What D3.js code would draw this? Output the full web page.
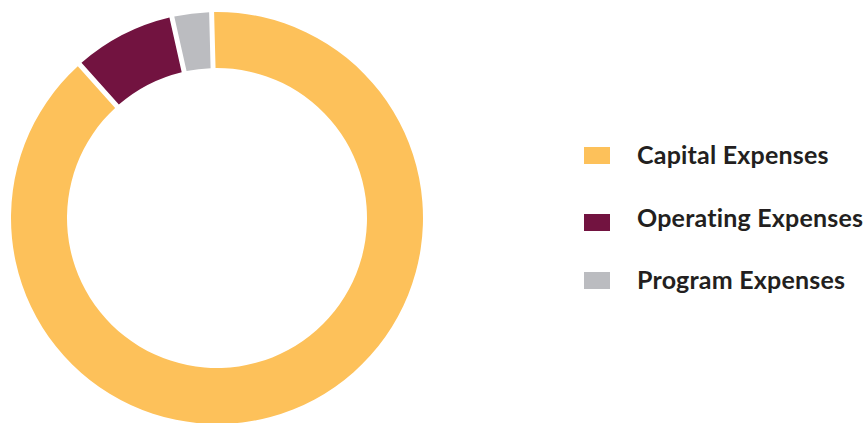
<!DOCTYPE html>
<html><head><meta charset="utf-8">
<script src="https://cdn.jsdelivr.net/npm/d3@7"></script>
<style>html,body{margin:0;padding:0;background:#fff;overflow:hidden}</style>
</head><body>
<svg id="c" width="865" height="423"></svg>
<script>
const categories = ["Capital Expenses", "Operating Expenses", "Program Expenses"];
const values = [88.8, 8.1, 3.1];
const colors = ["#FDC15A", "#721340", "#BBBCC0"];

const svg = d3.select("#c");
const cx = 217, cy = 218, rOuter = 206, rInner = 150;
const start = -1.5 * Math.PI / 180;

const pie = d3.pie().sort(null).value(d => d.v)
  .startAngle(start).endAngle(start + 2 * Math.PI);
const arc = d3.arc().innerRadius(rInner).outerRadius(rOuter)
  .padAngle(0.0195);

const data = categories.map((c, i) => ({c, v: values[i], col: colors[i], i}));
svg.append("g").attr("transform", `translate(${cx},${cy})`)
  .selectAll("path").data(pie(data)).join("path")
  .attr("d", arc).attr("fill", d => d.data.col);

// legend layout (not data)
const rectTop = [147, 214, 272];
const textBase = [164, 227, 289];
const item = svg.append("g").selectAll("g").data(data).join("g");
item.append("rect").attr("x", 584).attr("y", d => rectTop[d.i]).attr("width", 26).attr("height", 17)
  .attr("fill", d => d.col);
item.append("text").attr("x", 637).attr("y", d => textBase[d.i])
  .attr("font-family", "Lato, 'Open Sans', sans-serif").attr("font-weight", "bold")
  .attr("font-size", 25).attr("fill", "#231F20")
  .style("font-variant-ligatures", "none")
  .attr("letter-spacing", 0.2)
  .text(d => d.c);
</script>
</body></html>
